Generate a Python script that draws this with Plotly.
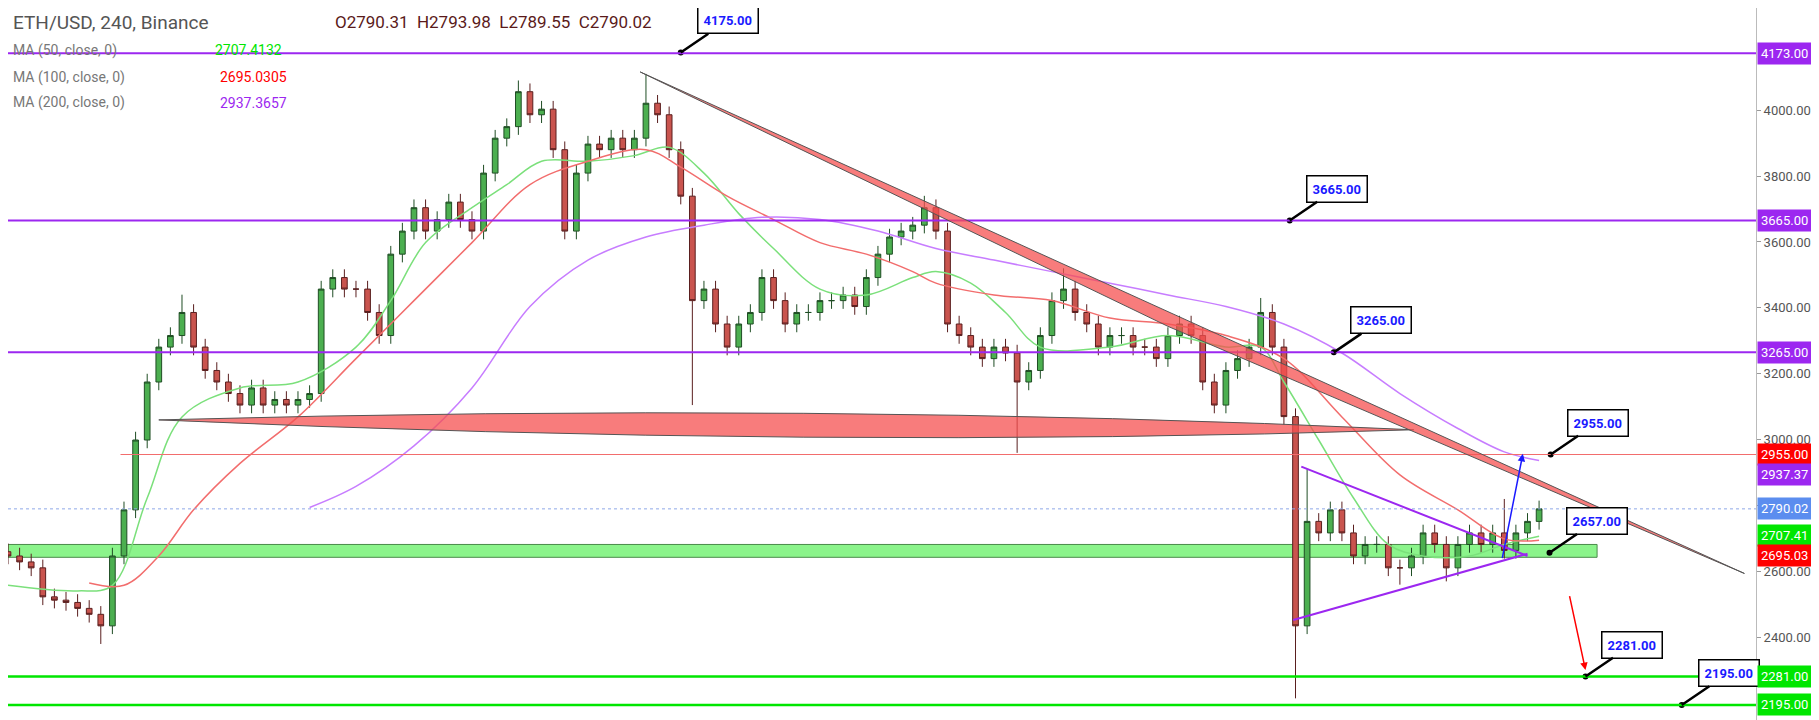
import plotly.graph_objects as go

# bar positions (bar index on the time axis) and closes
bars = list(range(0, 1330, 10))
closes = [2647, 2629, 2611, 2523, 2513, 2506, 2488, 2470, 2435, 2647, 2787, 2999, 3175, 3281,
          3316, 3386, 3281, 3210, 3175, 3140, 3105, 3157, 3105, 3122, 3105, 3122, 3140, 3457,
          3492, 3457, 3457, 3386, 3316, 3563, 3633, 3704, 3633, 3668, 3721, 3668, 3633, 3809,
          3915, 3950, 4056, 3986, 4003, 3880, 3633, 3809, 3897, 3880, 3915, 3880, 3915, 4021,
          3986, 3880, 3739, 3422, 3457, 3351, 3281, 3351, 3386, 3492, 3422, 3351, 3386, 3386,
          3422, 3422, 3439, 3404, 3492, 3563, 3615, 3633, 3651, 3704, 3633, 3351, 3316, 3281,
          3246, 3281, 3263, 3175, 3210, 3316, 3422, 3457, 3386, 3351, 3281, 3316, 3316, 3281,
          3281, 3246, 3316, 3351, 3316, 3175, 3105, 3210, 3246, 3281, 3386, 3281, 3070, 2435,
          2752, 2717, 2787, 2717, 2647, 2682, 2682, 2611, 2611, 2647, 2717, 2682, 2611, 2682,
          2717, 2682, 2717, 2664, 2717, 2752, 2790]
opens = [2660] + closes[:-1]
spike_hi = {15: 3440, 44: 4090, 55: 4110, 79: 3740, 91: 3520, 108: 3430, 112: 2910, 129: 2820}
spike_lo = {8: 2380, 59: 3105, 87: 2960, 111: 2215, 120: 2560, 124: 2570}
highs = [spike_hi.get(i, max(o, c) + 25) for i, (o, c) in enumerate(zip(opens, closes))]
lows = [spike_lo.get(i, min(o, c) - 25) for i, (o, c) in enumerate(zip(opens, closes))]

ma50_x = [0, 60, 90, 120, 150, 200, 250, 300, 330, 360, 400, 430, 460, 500, 540, 570, 600, 630, 660,
          700, 740, 780, 800, 830, 860, 890, 950, 1000, 1050, 1080, 1100, 1130, 1160, 1190, 1220,
          1260, 1290, 1320]
ma50_y = [2558, 2541, 2558, 2823, 3069, 3157, 3175, 3281, 3422, 3598, 3704, 3774, 3845, 3845, 3862,
          3887, 3809, 3686, 3580, 3457, 3439, 3492, 3510, 3475, 3386, 3281, 3281, 3316, 3281, 3281,
          3175, 2999, 2823, 2682, 2647, 2647, 2682, 2707]
ma100_x = [70, 100, 130, 160, 200, 250, 300, 350, 400, 450, 500, 550, 580, 620, 660, 700, 740, 780,
           800, 850, 900, 950, 1000, 1050, 1100, 1150, 1200, 1250, 1290, 1320]
ma100_y = [2565, 2558, 2647, 2787, 2928, 3069, 3246, 3422, 3598, 3774, 3845, 3880, 3827, 3739, 3668,
           3598, 3563, 3510, 3475, 3439, 3422, 3369, 3351, 3316, 3246, 3069, 2893, 2787, 2699, 2695]
ma200_x = [260, 300, 350, 400, 450, 500, 550, 600, 650, 700, 750, 800, 850, 900, 950, 1000, 1050,
           1100, 1150, 1200, 1250, 1290, 1320]
ma200_y = [2794, 2858, 2981, 3157, 3404, 3545, 3615, 3651, 3675, 3668, 3633, 3580, 3545, 3510, 3475,
           3439, 3404, 3351, 3263, 3140, 3034, 2963, 2937]

levels_purple = [4173, 3665, 3265]
levels_green = [2281, 2195]
callouts = [(580, 4175, "4175.00"), (1105, 3665, "3665.00"), (1143, 3265, "3265.00"),
            (1330, 2955, "2955.00"), (1329, 2657, "2657.00"), (1360, 2281, "2281.00"),
            (1443, 2195, "2195.00")]
# (label position, text, colour)
tags = [(4173, "4173.00", "#9c27f0"), (3665, "3665.00", "#9c27f0"), (3265, "3265.00", "#9c27f0"),
        (2955, "2955.00", "#ff0000"), (2895, "2937.37", "#9c27f0"), (2790.02, "2790.02", "#5b8def"),
        (2708, "2707.41", "#00e600"), (2648, "2695.03", "#ff0000"), (2281, "2281.00", "#00e600"),
        (2195, "2195.00", "#00e600")]
tick_vals = list(range(2400, 4200, 200))

fig = go.Figure()
fig.add_trace(go.Candlestick(x=bars, open=opens, high=highs, low=lows, close=closes,
                             increasing=dict(fillcolor="#4caf50", line=dict(color="#1f4d24", width=1)),
                             decreasing=dict(fillcolor="#c9544e", line=dict(color="#5a1f1f", width=1)),
                             whiskerwidth=0, showlegend=False))
for xs, ys, col in [(ma50_x, ma50_y, "#7be07b"), (ma100_x, ma100_y, "#f26d6d"), (ma200_x, ma200_y, "#c77dff")]:
    fig.add_trace(go.Scatter(x=xs, y=ys, mode="lines", line=dict(color=col, width=1.5, shape="spline"),
                             showlegend=False, hoverinfo="skip"))

shapes = []
for lv in levels_purple:
    shapes.append(dict(type="line", x0=0, x1=1507, y0=lv, y1=lv, line=dict(color="#9c27f0", width=2)))
for lv in levels_green:
    shapes.append(dict(type="line", x0=0, x1=1507, y0=lv, y1=lv, line=dict(color="#00e600", width=2.5)))
shapes.append(dict(type="line", x0=97, x1=1507, y0=2955, y1=2955, line=dict(color="#f26d6d", width=1)))
shapes.append(dict(type="line", x0=0, x1=1507, y0=2790, y1=2790, line=dict(color="#8fa8e8", width=1, dash="dot")))
shapes.append(dict(type="rect", x0=0, x1=1370, y0=2643, y1=2682, fillcolor="rgba(100,240,100,0.75)",
                   line=dict(color="#4a8a4a", width=1), layer="below"))
shapes.append(dict(type="path", path="M 130 3060 Q 700 3115 1212 3030 Q 700 2970 130 3060 Z",
                   fillcolor="rgba(245,80,80,0.75)", line=dict(color="#555", width=1)))
shapes.append(dict(type="path", path="M 545 4116 L 1497 2594 L 1000 3344 Z",
                   fillcolor="rgba(245,80,80,0.75)", line=dict(color="#555", width=1)))
shapes.append(dict(type="line", x0=1115, y0=2918, x1=1310, y1=2647, line=dict(color="#9c27f0", width=2)))
shapes.append(dict(type="line", x0=1108, y0=2453, x1=1310, y1=2654, line=dict(color="#9c27f0", width=2)))
fig.update_layout(shapes=shapes)

anns = []
anns.append(dict(x=1306, y=2957, ax=1288, ay=2636, axref="x", ayref="y", showarrow=True, arrowhead=2,
                 arrowcolor="#1a1aff", arrowwidth=1.5, text=""))
anns.append(dict(x=1360, y=2301, ax=1346, ay=2530, axref="x", ayref="y", showarrow=True, arrowhead=2,
                 arrowcolor="#ff0000", arrowwidth=1.5, text=""))
for x, y, t in callouts:
    anns.append(dict(x=x, y=y, ax=47, ay=-32, text="<b>%s</b>" % t, showarrow=True, arrowhead=0,
                     arrowwidth=2.5, arrowcolor="black", bgcolor="white", bordercolor="black",
                     borderwidth=1.5, borderpad=5, font=dict(color="#1a1aff", size=13)))
for y, t, col in tags:
    anns.append(dict(xref="paper", x=1.0, y=y, xanchor="left", xshift=1, text=t, showarrow=False,
                     bgcolor=col, font=dict(color="white", size=13), borderpad=3))
# header texts: (text, colour, size, y px, value, value colour, value x px)
legend = [("ETH/USD, 240, Binance", "#555", 19, 22, "O2790.31  H2793.98  L2789.55  C2790.02", "#5a1a1a", 325),
          ("MA (50, close, 0)", "#777", 14, 50, "2707.4132", "#00e600", 205),
          ("MA (100, close, 0)", "#777", 14, 77, "2695.0305", "#ff0000", 210),
          ("MA (200, close, 0)", "#777", 14, 103, "2937.3657", "#9c27f0", 210)]
for t, c, s, py, v, vc, vx in legend:
    anns.append(dict(xref="paper", yref="paper", x=3 / 1748, y=1 - (py - 8) / 720,
                     xanchor="left", yanchor="middle", text=t, showarrow=False, font=dict(color=c, size=s)))
    anns.append(dict(xref="paper", yref="paper", x=vx / 1748, y=1 - (py - 8) / 720,
                     xanchor="left", yanchor="middle", text=v, showarrow=False,
                     font=dict(color=vc, size=min(s, 17))))
fig.add_trace(go.Scatter(x=[c[0] for c in callouts], y=[c[1] for c in callouts], mode="markers",
                         marker=dict(color="black", size=6), showlegend=False))

fig.update_layout(annotations=anns, width=1819, height=720, margin=dict(l=0, r=71, t=0, b=0, autoexpand=False),
                  plot_bgcolor="white", paper_bgcolor="white",
                  font=dict(family="Roboto, sans-serif"),
                  xaxis=dict(range=[0, 1507], visible=False, rangeslider=dict(visible=False), automargin=False),
                  yaxis=dict(range=[2125, 4310], side="right", showgrid=False, tickvals=tick_vals,
                             ticktext=["%d.00" % v for v in tick_vals], automargin=False,
                             tickfont=dict(color="#555", size=13), ticks="outside", ticklen=4,
                             tickcolor="#999", showline=True, linecolor="#bbb", zeroline=False))
fig.write_html("out.html")
